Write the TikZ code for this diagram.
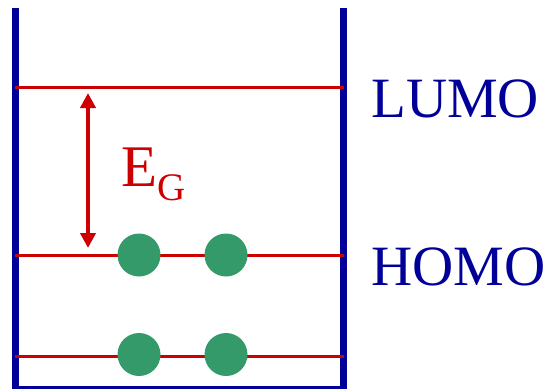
\documentclass[tikz,border=0pt]{standalone}
\usepackage{fontspec}
\setmainfont{Liberation Serif}
\usepackage{xcolor}
\usetikzlibrary{arrows.meta, positioning}

\definecolor{wallblue}{RGB}{0,0,153}
\definecolor{levelred}{RGB}{204,0,0}
\definecolor{electrongreen}{RGB}{52,154,106}

\begin{document}
\begin{tikzpicture}[
    x=1pt, y=-1pt,
    wall/.style={draw=wallblue, line width=7pt},
    floor/.style={draw=wallblue, line width=3pt},
    level/.style={draw=levelred, line width=3pt},
    electron/.style={circle, fill=electrongreen, minimum size=43pt, inner sep=0pt},
    orbital/.style={anchor=base west, inner sep=0pt, text=wallblue, font=\fontsize{57}{60}\selectfont},
    gap/.style={{Triangle[width=15pt, length=15pt]}-{Triangle[width=15pt, length=15pt]}, draw=levelred, line width=4pt}
]
\useasboundingbox (0,0) rectangle (548,388);
% walls of the well
\draw [wall] (15,8) -- (15,388);
\draw [wall] (343.5,8) -- (343.5,388);
\draw [floor] (11.5,387) -- (347,387);
% energy levels
\coordinate (lumoL) at (15,87.5);
\coordinate (lumoR) at (343.5,87.5);
\coordinate (homoL) at (15,255);
\coordinate (homoR) at (343.5,255);
\coordinate (lowL) at (15,356);
\coordinate (lowR) at (343.5,356);
\draw [level] (lumoL) -- (lumoR);
\draw [level] (homoL) -- (homoR);
\draw [level] (lowL) -- (lowR);
% electrons
\node (e1) [electron] at (139,255) {};
\node (e2) [electron] at (226,255) {};
\node (e3) [electron] at (139,354.5) {};
\node (e4) [electron] at (226,354.5) {};
% band gap
\coordinate (gaptop) at (88,93);
\coordinate (gapbot) at (88,248);
\draw [gap] (gapbot) -- (gaptop);
\node (eg) [anchor=base west, inner sep=0pt, text=levelred, font=\fontsize{59}{60}\selectfont] at (121,186) {E\raisebox{-14pt}{\fontsize{39}{40}\selectfont G}};
% labels
\node (lumo) [orbital] at (371,117) {LUMO};
\node (homo) [orbital] at (371,285) {HOMO};
\end{tikzpicture}
\end{document}
